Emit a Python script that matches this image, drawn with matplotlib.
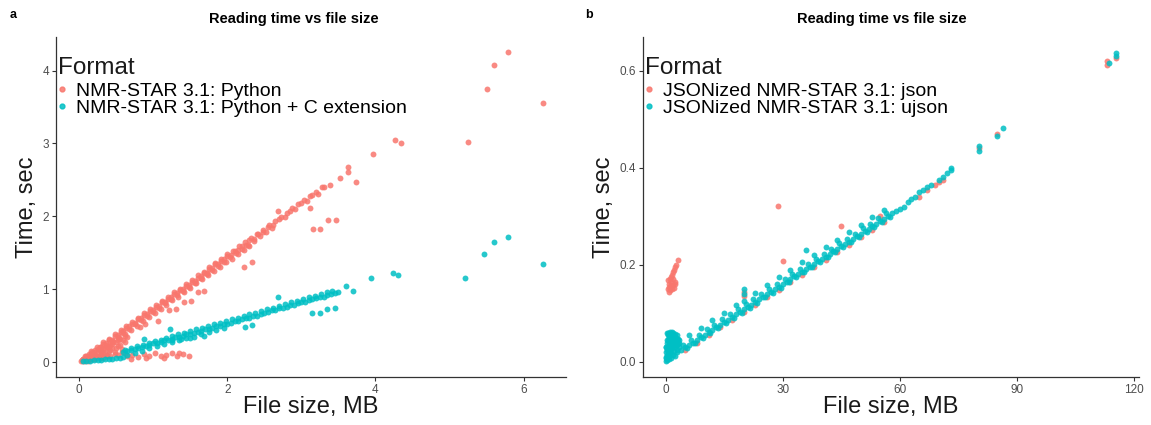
import matplotlib
matplotlib.use("Agg")
import matplotlib.pyplot as plt
from matplotlib.lines import Line2D

plt.rcParams['font.family'] = ['Liberation Sans', 'DejaVu Sans']

RED = "#F8766D"
TEAL = "#00BFC4"

# ---------------- Panel a data (file size MB, time sec) ----------------
labels_a = ["NMR-STAR 3.1: Python", "NMR-STAR 3.1: Python + C extension"]

py_x = [0.02,0.04,0.06,0.08,0.10,0.12,0.14,0.16,0.18,0.20,0.22,0.25,0.28,0.30,0.33,0.36,0.40,0.44,0.48,0.52,
        0.56,0.60,0.64,0.68,0.72,0.76,0.80,0.84,0.88,0.92,0.96,1.00,1.04,1.08,1.12,1.16,1.20,1.24,1.28,1.32,
        1.36,1.40,1.44,1.48,1.52,1.56,1.60,1.64,1.68,1.72,1.76,1.80,1.84,1.88,1.92,1.96,2.00,2.05,2.10,2.15,
        2.20,2.25,2.30,2.36,2.42,2.48,2.55,2.62,2.70,2.78,2.85,2.92,3.00,3.08,3.15,3.22,3.30,3.38,
        0.15,0.22,0.30,0.38,0.46,0.54,0.62,0.70,0.78,0.86,0.94,1.02,1.10,1.18,1.26,1.34,1.42,1.50,1.58,1.66,
        1.74,1.82,1.90,1.98,2.06,2.14,2.22,2.30,
        0.08,0.16,0.24,0.32,0.40,0.48,0.56,0.64,0.72,0.80,0.88,0.96,1.04,1.12,1.20,1.28,1.36,1.44,1.52,1.60,
        1.68,1.76,1.84,1.92,2.00,2.08,2.16,2.24,2.32,2.40,2.48,2.56,2.64,2.72,2.80,2.88,2.96,3.04,3.12,3.20,3.28,
        0.12,0.20,0.28,0.36,0.44,0.52,0.60,0.68,0.76,0.84,0.92,1.00,1.08,1.16,1.24,1.32,1.40,1.48,1.56,1.64,
        1.72,1.80,1.88,1.96,2.04,2.12,2.20,2.28,2.36,2.44,2.52,2.60,
        0.05,0.10,0.15,0.20,0.25,0.30,0.35,0.40,0.45,0.50,0.55,0.10,0.20,0.30,0.40,0.50,0.25,0.35,0.45,0.15,
        0.05,0.60,0.65,0.55,0.08,0.18,0.28,0.38,0.48,0.58,
        0.12,0.22,0.32,0.42,0.52,0.62,0.22,0.32,0.42,0.52,0.62,0.32,0.42,0.52,0.62,0.58,0.48,0.38,0.28,0.18,
        0.65,0.72,0.80,0.88,0.95,1.02,1.10,1.18,1.25,1.32,1.40,1.48,0.70,0.90,1.15,1.35,
        0.82,0.89,1.07,1.22,1.31,1.41,1.51,1.61,1.69,2.23,2.33,2.69,3.12,3.16,3.25,3.36,3.47,
        3.52,3.63,3.63,3.74,3.97,4.26,4.35,5.25,5.50,5.60,5.79,6.26]
py_y = [0.01,0.03,0.05,0.05,0.08,0.08,0.11,0.11,0.14,0.14,0.17,0.18,0.21,0.21,0.25,0.26,0.30,0.31,0.36,0.37,
        0.41,0.43,0.47,0.49,0.53,0.54,0.59,0.60,0.65,0.66,0.70,0.72,0.76,0.77,0.82,0.83,0.87,0.89,0.93,0.95,
        0.99,1.00,1.05,1.06,1.10,1.12,1.16,1.18,1.22,1.23,1.28,1.29,1.34,1.35,1.39,1.41,1.45,1.47,1.52,1.54,
        1.59,1.61,1.67,1.69,1.76,1.78,1.85,1.88,1.96,1.99,2.07,2.10,2.18,2.21,2.29,2.31,2.40,2.43,
        0.05,0.10,0.16,0.21,0.27,0.33,0.39,0.44,0.50,0.56,0.62,0.67,0.73,0.79,0.85,0.90,0.96,1.02,1.08,1.14,
        1.19,1.25,1.31,1.37,1.42,1.48,1.54,1.60,
        0.09,0.15,0.21,0.27,0.32,0.38,0.44,0.50,0.55,0.61,0.67,0.73,0.78,0.84,0.90,0.96,1.01,1.07,1.13,1.19,
        1.24,1.30,1.36,1.42,1.48,1.53,1.59,1.65,1.71,1.76,1.82,1.88,1.94,1.99,2.05,2.11,2.17,2.22,2.28,2.34,2.40,
        0.056,0.114,0.172,0.229,0.287,0.344,0.402,0.460,0.517,0.575,0.632,0.690,0.748,0.805,0.863,0.920,
        0.978,1.036,1.093,1.151,1.208,1.266,1.324,1.381,1.439,1.496,1.554,1.612,1.669,1.727,1.784,1.842,
        0.02,0.03,0.05,0.06,0.09,0.10,0.13,0.15,0.19,0.20,0.24,0.05,0.10,0.15,0.22,0.28,0.13,0.19,0.25,0.08,
        0.04,0.30,0.35,0.32,0.02,0.04,0.06,0.08,0.11,0.14,
        0.02,0.04,0.06,0.08,0.10,0.12,0.08,0.12,0.17,0.22,0.27,0.18,0.24,0.30,0.36,0.18,0.14,0.10,0.08,0.05,
        0.08,0.10,0.07,0.11,0.09,0.12,0.08,0.10,0.13,0.09,0.11,0.08,0.05,0.06,0.06,0.12,
        0.48,0.52,0.57,0.71,0.73,0.82,0.84,0.96,0.97,1.30,1.37,2.08,2.11,1.83,1.83,1.95,1.95,
        2.52,2.68,2.61,2.47,2.86,3.05,3.01,3.02,3.75,4.07,4.25,3.56]

pyc_x = [0.05,0.10,0.15,0.20,0.25,0.30,0.35,0.40,0.45,0.50,0.55,0.60,
         0.60,0.65,0.70,0.75,0.80,0.85,0.90,0.95,1.00,1.05,1.10,1.15,1.20,1.25,1.30,1.35,1.40,1.45,1.50,1.55,
         1.60,1.65,1.70,1.75,1.80,1.85,1.90,1.95,2.00,2.05,2.10,2.15,2.20,2.25,2.30,2.35,2.40,2.45,2.50,2.55,
         2.60,2.65,2.70,2.75,2.80,2.85,2.90,2.95,3.00,3.05,3.10,3.15,3.20,3.25,3.30,3.35,3.40,3.45,3.50,
         0.62,0.70,0.78,0.86,0.94,1.02,1.10,1.18,1.26,1.34,1.42,1.50,1.58,1.66,1.74,1.82,1.90,1.98,2.06,2.14,
         2.22,2.30,2.38,2.46,2.54,2.62,2.70,2.78,2.86,2.94,3.02,3.10,3.18,3.26,3.34,3.42,
         0.65,0.75,0.85,0.95,1.05,1.15,1.25,1.35,1.45,1.55,1.65,1.75,1.85,1.95,
         0.87,1.23,1.25,1.38,1.50,1.68,2.24,2.33,2.69,3.15,3.25,3.35,3.45,
         3.60,3.69,3.94,4.23,4.31,5.21,5.47,5.60,5.79,6.26]
pyc_y = [0.01,0.015,0.02,0.025,0.03,0.035,0.04,0.045,0.05,0.055,0.06,0.065,
         0.14,0.15,0.17,0.18,0.20,0.21,0.22,0.24,0.26,0.26,0.28,0.30,0.31,0.32,0.34,0.35,0.36,0.38,0.39,0.40,
         0.42,0.43,0.45,0.46,0.47,0.49,0.50,0.52,0.53,0.54,0.56,0.57,0.59,0.60,0.61,0.63,0.64,0.66,0.68,0.69,
         0.71,0.72,0.74,0.75,0.76,0.78,0.79,0.81,0.82,0.83,0.85,0.86,0.88,0.89,0.90,0.92,0.93,0.95,0.96,
         0.17,0.19,0.22,0.24,0.26,0.29,0.31,0.33,0.36,0.38,0.40,0.43,0.45,0.47,0.49,0.52,0.54,0.56,0.59,0.61,
         0.63,0.66,0.68,0.70,0.73,0.75,0.77,0.80,0.82,0.84,0.87,0.89,0.91,0.94,0.96,0.98,
         0.10,0.13,0.16,0.19,0.22,0.25,0.27,0.30,0.33,0.35,0.38,0.41,0.44,0.47,
         0.32,0.46,0.30,0.32,0.33,0.36,0.48,0.51,0.89,0.68,0.68,0.73,0.75,
         1.05,0.97,1.16,1.22,1.20,1.15,1.49,1.65,1.72,1.34]

# ---------------- Panel b data ----------------
labels_b = ["JSONized NMR-STAR 3.1: json", "JSONized NMR-STAR 3.1: ujson"]

json_x = [0.5,0.8,1.0,1.2,1.5,1.8,2.0,2.2,0.7,1.3,1.6,1.9,2.1,2.3,2.6,3.2,1.1,1.7,2.4,0.9,2.5,1.4,
          28.8,45.0,30.1,20.0,20.0,55.0,65.0,67.0,69.0,70.0,71.0,80.3,85.0,113.2,113.2,115.3,
          5,8,11,14,17,20,23,26,29,32,35,38,41,44,47,50,53,56]
json_y = [0.150,0.155,0.160,0.148,0.165,0.158,0.170,0.152,0.168,0.175,0.180,0.185,0.190,0.196,0.200,0.210,
          0.170,0.150,0.160,0.145,0.165,0.158,
          0.322,0.280,0.207,0.135,0.145,0.300,0.340,0.355,0.365,0.370,0.375,0.440,0.470,0.612,0.620,0.625,
          0.024,0.040,0.055,0.071,0.086,0.102,0.117,0.133,0.148,0.164,0.179,0.195,0.210,0.226,0.241,0.257,
          0.272,0.288]

ujson_x = [4,5,6,7,8,9,10,11,12,13,14,15,16,17,18,19,20,21,22,23,24,25,26,27,28,29,30,31,32,33,34,35,36,
           37,38,39,40,41,42,43,44,45,46,47,48,49,50,51,52,53,54,55,56,57,58,
           4.5,6.5,8.5,10.5,12.5,14.5,16.5,18.5,20.5,22.5,24.5,26.5,28.5,30.5,32.5,34.5,36.5,38.5,40.5,42.5,
           44.5,46.5,48.5,50.5,52.5,54.5,56.5,
           5.5,7.5,9.5,11.5,13.5,15.5,17.5,19.5,21.5,23.5,25.5,27.5,29.5,31.5,33.5,35.5,37.5,39.5,41.5,43.5,
           45.5,47.5,49.5,51.5,53.5,55.5,57.5,
           3.5,6,9,12,15,18,23,26,29,32,35,38,41,44,47,50,53,56,
           0.1,0.2,0.3,0.4,0.5,0.6,0.7,0.8,0.9,1.0,1.1,1.2,1.3,1.4,1.5,1.6,1.7,1.8,1.9,2.0,2.1,2.2,2.4,2.6,
           2.8,3.0,3.2,0.3,0.5,0.2,0.7,2.5,3.0,1.2,0.15,0.45,1.75,2.3,2.7,0.05,3.5,3.5,1.0,1.4,0.9,
           0.3,0.6,0.9,1.2,1.5,1.8,2.1,2.4,2.7,3.0,0.1,0.4,1.6,2.0,2.9,3.3,0.8,1.1,2.2,0.6,
           59,60,61,62,63,64,65,66,67,68,70,71,72,73,73,80.3,80.3,84.8,86.5,113.5,115.5,115.5,
           36.1,20,20,20]
ujson_y = [0.025,0.030,0.035,0.040,0.046,0.051,0.056,0.061,0.066,0.072,0.077,0.082,0.087,0.092,0.098,0.103,
           0.108,0.113,0.118,0.124,0.129,0.134,0.139,0.144,0.150,0.155,0.160,0.165,0.170,0.176,0.181,0.186,
           0.191,0.196,0.202,0.207,0.212,0.217,0.222,0.228,0.233,0.238,0.243,0.248,0.254,0.259,0.264,0.269,
           0.274,0.280,0.285,0.290,0.295,0.300,0.306,
           0.035,0.046,0.056,0.067,0.077,0.088,0.098,0.108,0.119,0.129,0.140,0.150,0.160,0.171,0.181,0.192,
           0.202,0.212,0.223,0.233,0.244,0.254,0.264,0.275,0.285,0.296,0.306,
           0.029,0.039,0.049,0.060,0.070,0.081,0.091,0.101,0.112,0.122,0.133,0.143,0.153,0.164,0.174,0.185,
           0.195,0.205,0.216,0.226,0.237,0.247,0.257,0.268,0.278,0.289,0.299,
           0.040,0.055,0.070,0.086,0.101,0.117,0.143,0.158,0.174,0.189,0.205,0.220,0.236,0.251,0.267,0.282,
           0.298,0.313,
           0.002,0.008,0.015,0.004,0.022,0.030,0.012,0.040,0.006,0.025,0.050,0.018,0.035,0.008,0.055,0.028,
           0.045,0.015,0.060,0.038,0.022,0.050,0.030,0.042,0.020,0.035,0.048,0.045,0.055,0.030,0.060,0.058,
           0.025,0.062,0.020,0.038,0.030,0.012,0.050,0.010,0.030,0.045,0.015,0.045,0.050,
           0.025,0.045,0.035,0.040,0.020,0.050,0.045,0.052,0.035,0.045,0.030,0.060,0.062,0.055,0.055,0.040,
           0.055,0.030,0.035,0.015,
           0.310,0.315,0.320,0.330,0.335,0.340,0.350,0.355,0.360,0.365,0.375,0.380,0.390,0.395,0.400,0.434,
           0.444,0.465,0.482,0.615,0.630,0.637,
           0.231,0.125,0.140,0.150]

# ---------------- Figure ----------------
fig = plt.figure(figsize=(11.51, 4.25), dpi=100)
ax_a = fig.add_axes([0.0487, 0.1118, 0.443, 0.801])
ax_b = fig.add_axes([0.5586, 0.1118, 0.431, 0.801])

PT = dict(s=18, alpha=0.85, linewidths=0)

def style(ax):
    for side in ("top", "right"):
        ax.spines[side].set_visible(False)
    for side in ("left", "bottom"):
        ax.spines[side].set_linewidth(0.9)
        ax.spines[side].set_color("#333333")
    ax.tick_params(axis="both", length=3, width=0.8, color="#333333",
                   labelsize=8.5, labelcolor="#4d4d4d", pad=2)
    ax.set_xlabel("File size, MB", fontsize=17, color="#1a1a1a", labelpad=0)
    ax.set_ylabel("Time, sec", fontsize=17, color="#1a1a1a", labelpad=3)

def legend(ax, labels):
    ax.text(0.004, 0.909, "Format", transform=ax.transAxes, fontsize=17.5,
            ha="left", va="center", color="#1a1a1a")
    handles = [Line2D([], [], ls="", marker="o", ms=3.5, color=c, alpha=0.85)
               for c in (RED, TEAL)]
    ax.legend(handles, labels, loc="upper left", bbox_to_anchor=(0.0, 0.868),
              frameon=False, fontsize=14, handlelength=0.6, handletextpad=0.45,
              labelspacing=0.0, borderaxespad=0.0, borderpad=0.0)

ax_a.scatter(py_x, py_y, color=RED, **PT)
ax_a.scatter(pyc_x, pyc_y, color=TEAL, **PT)
ax_a.set_xlim(-0.31, 6.57)
ax_a.set_ylim(-0.21, 4.46)
ax_a.set_xticks([0, 2, 4, 6])
ax_a.set_yticks([0, 1, 2, 3, 4])
style(ax_a)
legend(ax_a, labels_a)

ax_b.scatter(json_x, json_y, color=RED, **PT)
ax_b.scatter(ujson_x, ujson_y, color=TEAL, **PT)
ax_b.set_xlim(-5.8, 121.3)
ax_b.set_ylim(-0.032, 0.669)
ax_b.set_xticks([0, 30, 60, 90, 120])
ax_b.set_yticks([0.0, 0.2, 0.4, 0.6])
ax_b.set_yticklabels(["0.0", "0.2", "0.4", "0.6"])
style(ax_b)
legend(ax_b, labels_b)

fig.text(0.255, 0.955, "Reading time vs file size", fontsize=10.5, fontweight="bold",
         ha="center", va="center")
fig.text(0.766, 0.955, "Reading time vs file size", fontsize=10.5, fontweight="bold",
         ha="center", va="center")
fig.text(0.008, 0.965, "a", fontsize=9, fontweight="bold", va="center")
fig.text(0.508, 0.965, "b", fontsize=9, fontweight="bold", va="center")

fig.savefig("out.png", dpi=100)
